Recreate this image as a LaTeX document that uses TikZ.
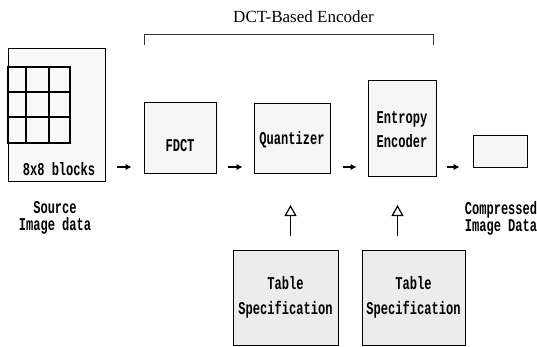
\documentclass[tikz,border=0pt]{standalone}
\usepackage{fontspec}
\setmainfont{Liberation Serif}
\newfontfamily\pixfont[FakeStretch=0.67]{Liberation Mono}
\usetikzlibrary{arrows.meta, positioning}

\begin{document}
\begin{tikzpicture}[
    x=1pt, y=-1pt,
    every node/.style={font=\pixfont\fontsize{18}{17}\selectfont\bfseries},
    box/.style={draw, line width=0.9pt, fill=gray!7, inner sep=0pt},
    tabbox/.style={box, fill=gray!15},
    flow/.style={-{Latex[length=6pt,width=6.5pt]}, line width=1.6pt},
    spec/.style={-{Triangle[open,length=11pt,width=12pt]}, line width=1.2pt},
    cell/.style={line width=1.8pt},
]
\useasboundingbox (0,0) rectangle (537,346);

% Encoder bracket and title
\node[font=\rmfamily\fontsize{17}{19}\selectfont] (title) at (303.5,17) {DCT-Based Encoder};
\draw[gray!40!black, line width=0.9pt] (144,45) -- (144,34) -- (433,34) -- (433,45);

% Source image with its 8x8 blocks
\node[box, fill=gray!5, minimum width=97pt, minimum height=133pt] (src) at (56.5,114.5) {};
\draw[cell] (8,67) rectangle (70,143);
\draw[cell] (26,67) -- (26,143) (49,67) -- (49,143);
\draw[cell] (8,92) -- (70,92) (8,117) -- (70,117);
\node (blocks) at (59,169) {8x8 blocks};

% Encoder stages
\node[box, minimum width=72pt, minimum height=71pt,
    label={[yshift=-8pt]center:FDCT}] (fdct) at (180,137.5) {};
\node[box, minimum width=76pt, minimum height=70pt,
    label={[yshift=-2pt]center:Quantizer}] (quant) at (292,138) {};
\node[box, minimum width=68pt, minimum height=96pt, align=center,
    label={[yshift=-2pt, align=center]center:Entropy\\[7pt]Encoder}] (entropy) at (402,128) {};
\node[box, minimum width=54pt, minimum height=32pt] (out) at (500,151) {};

% Table specifications
\node[tabbox, minimum width=105pt, minimum height=95pt, align=center] (tab1) at (285.5,297.5)
    {Table\\[8pt]Specification};
\node[tabbox, minimum width=103pt, minimum height=95pt, align=center] (tab2) at (413.5,297.5)
    {Table\\[8pt]Specification};

% Captions
\node[align=center] (srclbl) at (55,218) {Source\\Image data};
\node[align=center] (outlbl) at (501,218) {Compressed\\Image Data};

% Data flow
\coordinate (row) at (0,167);
\draw[flow, shorten <=12pt, shorten >=12pt] (src.east |- row) -- (fdct.west |- row);
\draw[flow, shorten <=12pt, shorten >=11pt] (fdct.east |- row) -- (quant.west |- row);
\draw[flow, shorten <=13pt, shorten >=11pt] (quant.east |- row) -- (entropy.west |- row);
\draw[flow, shorten <=11pt, shorten >=13pt] (entropy.east |- row) -- (out.west |- row);

% Table inputs
\coordinate (qtail) at (290.5,236);
\coordinate (qhead) at (290.5,205);
\coordinate (etail) at (397.5,236);
\coordinate (ehead) at (397.5,205);
\draw[spec] (qtail) -- (qhead);
\draw[spec] (etail) -- (ehead);

\end{tikzpicture}
\end{document}
